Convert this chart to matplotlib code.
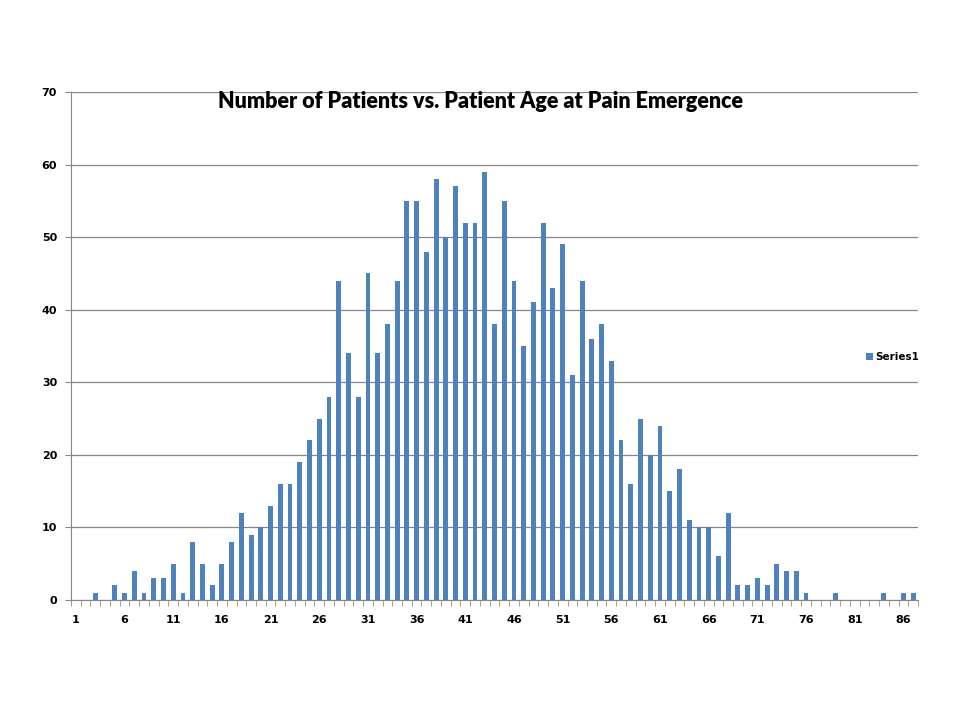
import numpy as np
import matplotlib
matplotlib.use("Agg")
import matplotlib.pyplot as plt

ages = np.arange(1, 88)
patients = [0, 0, 1, 0, 2, 1, 4, 1, 3, 3,
            5, 1, 8, 5, 2, 5, 8, 12, 9, 10,
            13, 16, 16, 19, 22, 25, 28, 44, 34, 28,
            45, 34, 38, 44, 55, 55, 48, 58, 50, 57,
            52, 52, 59, 38, 55, 44, 35, 41, 52, 43,
            49, 31, 44, 36, 38, 33, 22, 16, 25, 20,
            24, 15, 18, 11, 10, 10, 6, 12, 2, 2,
            3, 2, 5, 4, 4, 1, 0, 0, 1, 0,
            0, 0, 0, 1, 0, 1, 1]
xticks = list(range(1, 88, 5))
yticks = list(range(0, 71, 10))

fig = plt.figure(figsize=(9.6, 7.2), dpi=100)
ax = fig.add_axes([71/960, 120/720, (918-71)/960, (600-92)/720])

ax.bar(ages, patients, width=0.5, color="#4F81BD", label="Series1", zorder=3)

ax.set_xlim(0.5, 87.5)
ax.set_ylim(0, 70)
ax.set_yticks(yticks)
ax.set_xticks(xticks)
ax.set_xticks(np.arange(0.5, 88, 1), minor=True)
ax.tick_params(axis="x", which="major", length=0, pad=11)
ax.tick_params(axis="x", which="minor", length=4, color="#A08C6E", direction="out")
ax.tick_params(axis="y", length=4, color="#868686", pad=6)
for lbl in ax.get_xticklabels() + ax.get_yticklabels():
    lbl.set_fontweight("bold")
    lbl.set_fontsize(8)

ax.grid(axis="y", color="#868686", linewidth=0.9, zorder=0)
for s in ["top", "right"]:
    ax.spines[s].set_visible(False)
for s in ["left", "bottom"]:
    ax.spines[s].set_color("#868686")

ax.set_title("Number of Patients vs. Patient Age at Pain Emergence",
             fontsize=15.5, fontweight="heavy", family=["Lato", "DejaVu Sans"],
             y=0.952, x=0.4835)

fig.legend(loc="center left", bbox_to_anchor=(857/960, 1 - 357/720),
           frameon=False, prop={"weight": "bold", "size": 7.5},
           handlelength=0.6, handleheight=0.6, handletextpad=0.3)

fig.savefig("out.png", dpi=100)
